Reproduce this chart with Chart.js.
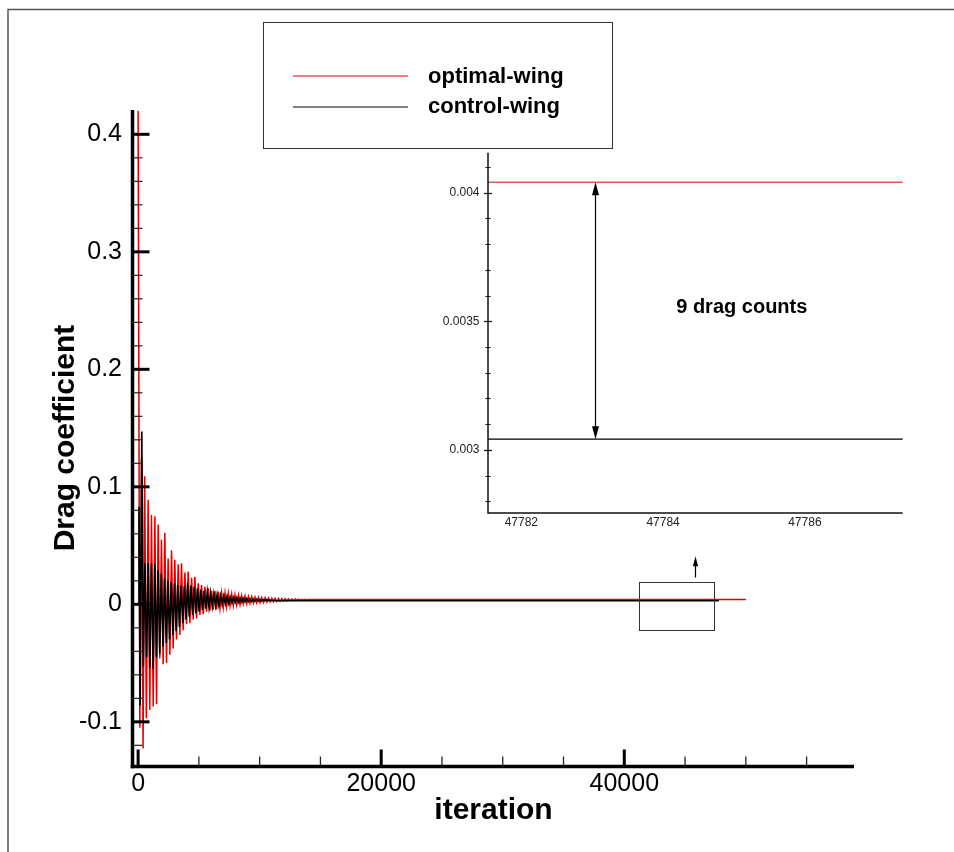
<!DOCTYPE html>
<html><head><meta charset="utf-8">
<script src="https://cdn.jsdelivr.net/npm/chart.js@4.4.0/dist/chart.umd.min.js"></script>
<style>
html,body{margin:0;padding:0;background:#fff;}
#wrap{position:relative;width:954px;height:852px;overflow:hidden;background:#fff;}
#wrap canvas{position:absolute;left:0;top:0;}
</style></head><body>
<div id="wrap"><canvas id="main" width="954" height="852"></canvas><canvas id="inset" width="954" height="852"></canvas></div>
<script>
// ---------------- data ----------------
const seriesNames = ['optimal-wing', 'control-wing'];

// optimal-wing (red): iteration / drag coefficient, alternating peaks and troughs
const redIter = [0, 140, 280, 410, 540, 680, 825, 960, 1100, 1240, 1380, 1515, 1650, 1785, 1920, 2060, 2200, 2335, 2470, 2610, 2750, 2885, 3020, 3160, 3300, 3435, 3570, 3710, 3850, 3985, 4120, 4260, 4400, 4535, 4670, 4810, 4950, 5085, 5220, 5360, 5500, 5635, 5770, 5910, 6050, 6185, 6320, 6460, 6600, 6735, 6870, 7010, 7150, 7285, 7420, 7560, 7700, 7835, 7970, 8110, 8250, 8385, 8520, 8660, 8800, 8935, 9070, 9210, 9350, 9485, 9620, 9760, 9900, 10035, 10170, 10310, 10450, 10585, 10720, 10860, 11000, 11135, 11270, 11410, 11550, 11685, 11820, 11960, 12100, 12235, 12370, 12510, 12650, 12785, 12920, 13060, 13200, 13335, 13470, 13610, 13750, 13885, 14020, 14600, 50000];
const redCd = [0.42, -0.105, 0.125, -0.1226, 0.109, -0.097, 0.089, -0.090, 0.076, -0.087, 0.075, -0.085, 0.068, -0.046, 0.055, -0.051, 0.061, -0.050, 0.039, -0.043, 0.046, -0.0375, 0.038, -0.030, 0.034, -0.026, 0.035, -0.022, 0.027, -0.017, 0.028, -0.016, 0.0225, -0.013, 0.0235, -0.012, 0.018, -0.009, 0.0164, -0.0085, 0.015, -0.0063, 0.0136, -0.0055, 0.0116, -0.0045, 0.0112, -0.0043, 0.0108, -0.0035, 0.010, -0.0026, 0.0098, -0.002, 0.0094, -0.0015, 0.0088, -0.001, 0.0082, -0.0006, 0.0078, -0.0002, 0.0073, 0.0003, 0.007, 0.0005, 0.0067, 0.0008, 0.0064, 0.001, 0.0061, 0.0012, 0.0059, 0.0014, 0.0057, 0.0016, 0.0056, 0.0018, 0.0054, 0.002, 0.0052, 0.0022, 0.0051, 0.0024, 0.005, 0.0026, 0.0049, 0.0028, 0.0048, 0.003, 0.0047, 0.0032, 0.0046, 0.0034, 0.0045, 0.0035, 0.0044, 0.0036, 0.0043, 0.0037, 0.0042, 0.0038, 0.0041, 0.00404, 0.00404];

// control-wing (black)
const blackIter = [0, 70, 170, 305, 430, 560, 700, 830, 960, 1100, 1240, 1370, 1510, 1640, 1780, 1910, 2050, 2180, 2320, 2450, 2590, 2720, 2860, 2990, 3130, 3260, 3400, 3530, 3670, 3800, 3940, 4070, 4210, 4340, 4480, 4610, 4750, 4880, 5020, 5150, 5290, 5420, 5560, 5690, 5830, 5960, 6100, 6230, 6370, 6500, 6640, 6770, 6910, 7040, 7180, 7310, 7450, 7580, 7720, 7850, 7990, 8120, 8260, 8390, 8530, 8660, 8800, 8930, 9070, 9200, 9340, 9470, 9610, 9740, 9880, 10010, 10150, 10280, 10420, 10550, 10690, 10820, 10960, 11100, 11300, 47787];
const blackCd = [0.0, 0.083, -0.086, 0.147, -0.053, 0.035, -0.045, 0.035, -0.054, 0.035, -0.055, 0.034, -0.045, 0.029, -0.042, 0.026, -0.036, 0.022, -0.033, 0.020, -0.030, 0.019, -0.026, 0.018, -0.023, 0.0165, -0.019, 0.016, -0.016, 0.0155, -0.013, 0.018, -0.0105, 0.016, -0.009, 0.015, -0.0075, 0.0136, -0.0063, 0.0125, -0.005, 0.0115, -0.0038, 0.0107, -0.0026, 0.0098, -0.0018, 0.009, -0.0012, 0.0082, -0.0006, 0.0076, -0.0001, 0.0071, 0.0004, 0.0066, 0.0008, 0.0062, 0.0012, 0.0059, 0.0015, 0.0056, 0.0017, 0.0054, 0.0019, 0.0052, 0.0021, 0.005, 0.0023, 0.0048, 0.0025, 0.0046, 0.0026, 0.0045, 0.0027, 0.0043, 0.0028, 0.0042, 0.0029, 0.004, 0.003, 0.0038, 0.0031, 0.0035, 0.00305, 0.00304];

// main axes ticks
const xMajorTicks = [0, 20000, 40000];
const xMajorLabels = ['0', '20000', '40000'];
const xMinorTicks = [5000, 10000, 15000, 25000, 30000, 35000, 45000, 50000, 55000];
const yMajorTicks = [-0.1, 0, 0.1, 0.2, 0.3, 0.4];
const yMajorLabels = ['-0.1', '0', '0.1', '0.2', '0.3', '0.4'];
const yMinorTicks = [-0.12, -0.08, -0.06, -0.04, -0.02, 0.02, 0.04, 0.06, 0.08, 0.12, 0.14, 0.16, 0.18, 0.22, 0.24, 0.26, 0.28, 0.32, 0.34, 0.36, 0.38];
const xRange = [-420, 58900];
const yRange = [-0.1376, 0.4207];

// zoom window marked on the main plot
const zoomBoxIter = [41225, 47393];
const zoomBoxCd = [-0.0219, 0.0192];
const zoomArrowIter = 45806;
const zoomArrowCd = [0.0228, 0.041];

// inset (zoomed) data
const insetIter = [47781, 47782, 47783, 47784, 47785, 47786, 47787, 47788];
const insetRed = [0.00404, 0.00404, 0.00404, 0.00404, 0.00404, 0.00404, 0.00404, 0.00404];
const insetBlack = [0.003042, 0.003042, 0.003042, 0.003042, 0.003042, 0.003042, 0.003042, 0.003042];
const insetXTicks = [47782, 47784, 47786];
const insetXLabels = ['47782', '47784', '47786'];
const insetYTicks = [0.003, 0.0035, 0.004];
const insetYLabels = ['0.003', '0.0035', '0.004'];
const insetYMinor = [0.0028, 0.0029, 0.0031, 0.0032, 0.0033, 0.0034, 0.0036, 0.0037, 0.0038, 0.0039, 0.0041];
const insetXRange = [47781.53, 47787.38];
const insetYRange = [0.002755, 0.004155];
const insetArrowIter = 47783.04;
const insetNote = '9 drag counts';
const insetNoteAt = [47785.11, 0.003552];

// ---------------- helpers ----------------
const FONT = "'Liberation Sans', Arial, Helvetica, sans-serif";
const pts = (xs, ys) => xs.map((x, i) => ({x: x, y: ys[i]}));

function arrowHead(ctx, x, y, dir, len, half) {
  ctx.beginPath();
  ctx.moveTo(x, y);
  ctx.lineTo(x - half, y - dir * len);
  ctx.lineTo(x + half, y - dir * len);
  ctx.closePath();
  ctx.fill();
}

// ---------------- main chart ----------------
const mainDecor = {
  id: 'mainDecor',
  afterDraw(chart) {
    const {ctx, chartArea: a} = chart;
    const xs = chart.scales.x, ys = chart.scales.y;
    ctx.save();
    // outer frame
    ctx.strokeStyle = '#555'; ctx.lineWidth = 1.5;
    ctx.beginPath(); ctx.moveTo(8, 852); ctx.lineTo(8, 9.5); ctx.lineTo(954, 9.5); ctx.stroke();
    // axis lines
    ctx.strokeStyle = '#000'; ctx.lineWidth = 3.5; ctx.lineCap = 'butt';
    const ax = a.left - 0.5, ay = a.bottom + 0.5;
    ctx.beginPath(); ctx.moveTo(ax, a.top); ctx.lineTo(ax, ay + 1.75); ctx.stroke();
    ctx.beginPath(); ctx.moveTo(ax - 1.75, ay); ctx.lineTo(a.right, ay); ctx.stroke();
    // y ticks (inside)
    ctx.lineWidth = 3;
    yMajorTicks.forEach(v => { const p = ys.getPixelForValue(v); ctx.beginPath(); ctx.moveTo(ax, p); ctx.lineTo(ax + 17, p); ctx.stroke(); });
    ctx.lineWidth = 1.2; ctx.strokeStyle = '#222';
    yMinorTicks.forEach(v => { const p = ys.getPixelForValue(v); ctx.beginPath(); ctx.moveTo(ax, p); ctx.lineTo(ax + 10, p); ctx.stroke(); });
    // x ticks (inside)
    ctx.strokeStyle = '#000'; ctx.lineWidth = 3;
    xMajorTicks.forEach(v => { const p = xs.getPixelForValue(v); ctx.beginPath(); ctx.moveTo(p, ay); ctx.lineTo(p, ay - 17); ctx.stroke(); });
    ctx.lineWidth = 1.3; ctx.strokeStyle = '#222';
    xMinorTicks.forEach(v => { const p = xs.getPixelForValue(v); ctx.beginPath(); ctx.moveTo(p, ay); ctx.lineTo(p, ay - 10); ctx.stroke(); });
    // zoom box
    ctx.strokeStyle = '#333'; ctx.lineWidth = 1;
    const bx0 = xs.getPixelForValue(zoomBoxIter[0]), bx1 = xs.getPixelForValue(zoomBoxIter[1]);
    const by0 = ys.getPixelForValue(zoomBoxCd[1]), by1 = ys.getPixelForValue(zoomBoxCd[0]);
    ctx.strokeRect(Math.round(bx0) + 0.5, Math.round(by0) + 0.5, Math.round(bx1 - bx0), Math.round(by1 - by0));
    // arrow up
    const arx = Math.round(xs.getPixelForValue(zoomArrowIter)) + 0.5;
    const ar0 = ys.getPixelForValue(zoomArrowCd[0]), ar1 = ys.getPixelForValue(zoomArrowCd[1]);
    ctx.strokeStyle = '#000'; ctx.fillStyle = '#000'; ctx.lineWidth = 1.2;
    ctx.beginPath(); ctx.moveTo(arx, ar0); ctx.lineTo(arx, ar1 + 8); ctx.stroke();
    arrowHead(ctx, arx, ar1, -1, 10, 2.6);
    // legend
    ctx.strokeStyle = '#333'; ctx.lineWidth = 1;
    ctx.strokeRect(263.5, 22.5, 349, 126);
    ctx.lineWidth = 1.5;
    ctx.strokeStyle = '#e45a5a';
    ctx.beginPath(); ctx.moveTo(293, 76); ctx.lineTo(408, 76); ctx.stroke();
    ctx.strokeStyle = '#000'; ctx.lineWidth = 1.2;
    ctx.beginPath(); ctx.moveTo(293, 107); ctx.lineTo(408, 107); ctx.stroke();
    ctx.fillStyle = '#000';
    ctx.font = 'bold 22px ' + FONT; ctx.textAlign = 'left'; ctx.textBaseline = 'middle';
    ctx.fillText(seriesNames[0], 428, 76.5);
    ctx.fillText(seriesNames[1], 428, 107);
    ctx.restore();
  }
};

new Chart(document.getElementById('main'), {
  type: 'line',
  data: {
    datasets: [
      {label: seriesNames[0], data: pts(redIter, redCd), borderColor: '#e00000', borderWidth: 1.5, pointRadius: 0, tension: 0, fill: false, order: 1},
      {label: seriesNames[1], data: pts(blackIter, blackCd), borderColor: '#000000', borderWidth: 1.6, pointRadius: 0, tension: 0, fill: false, order: 0}
    ]
  },
  options: {
    responsive: false, animation: false, events: [],
    layout: {padding: {left: 0, top: 110, right: 100, bottom: 0}},
    plugins: {legend: {display: false}, tooltip: {enabled: false}},
    scales: {
      x: {
        type: 'linear', min: xRange[0], max: xRange[1],
        afterFit(s) { s.height = 86; },
        afterBuildTicks(s) { s.ticks = xMajorTicks.map(v => ({value: v})); },
        grid: {display: false, drawTicks: false}, border: {display: false},
        ticks: {autoSkip: false, maxRotation: 0, padding: 3.5, color: '#000', font: {family: FONT, size: 25},
          callback: (v, i) => xMajorLabels[i]},
        title: {display: true, text: 'iteration', color: '#000', font: {family: FONT, size: 30, weight: 'bold'}, padding: {top: 0, bottom: 23}}
      },
      y: {
        type: 'linear', min: yRange[0], max: yRange[1],
        afterFit(s) { s.width = 133; },
        afterBuildTicks(s) { s.ticks = yMajorTicks.map(v => ({value: v})); },
        grid: {display: false, drawTicks: false}, border: {display: false},
        ticks: {autoSkip: false, padding: 11, color: '#000', font: {family: FONT, size: 25},
          callback: (v, i) => yMajorLabels[i]},
        title: {display: true, text: 'Drag coefficient', color: '#000', font: {family: FONT, size: 30, weight: 'bold'}, padding: {top: 48, bottom: 0}}
      }
    }
  },
  plugins: [mainDecor]
});

// ---------------- inset chart ----------------
const insetDecor = {
  id: 'insetDecor',
  afterDraw(chart) {
    const {ctx, chartArea: a} = chart;
    const xs = chart.scales.x, ys = chart.scales.y;
    ctx.save();
    ctx.strokeStyle = '#111'; ctx.lineWidth = 1.5;
    const ax = a.left, ay = a.bottom;
    ctx.beginPath(); ctx.moveTo(ax, a.top); ctx.lineTo(ax, ay); ctx.lineTo(a.right, ay); ctx.stroke();
    ctx.lineWidth = 1.2;
    insetYTicks.forEach(v => { const p = Math.round(ys.getPixelForValue(v)) + 0.5; ctx.beginPath(); ctx.moveTo(ax - 4, p); ctx.lineTo(ax + 4, p); ctx.stroke(); });
    ctx.lineWidth = 1;
    insetYMinor.forEach(v => { const p = Math.round(ys.getPixelForValue(v)) + 0.5; ctx.beginPath(); ctx.moveTo(ax - 2.5, p); ctx.lineTo(ax + 2.5, p); ctx.stroke(); });
    // double arrow
    const px = Math.round(xs.getPixelForValue(insetArrowIter)) + 0.5;
    const pTop = ys.getPixelForValue(insetRed[0]), pBot = ys.getPixelForValue(insetBlack[0]);
    ctx.strokeStyle = '#000'; ctx.fillStyle = '#000'; ctx.lineWidth = 1.2;
    ctx.beginPath(); ctx.moveTo(px, pTop + 10); ctx.lineTo(px, pBot - 10); ctx.stroke();
    arrowHead(ctx, px, pTop, -1, 13, 3.5);
    arrowHead(ctx, px, pBot, 1, 13, 3.5);
    // note
    ctx.font = 'bold 20px ' + FONT; ctx.textAlign = 'center'; ctx.textBaseline = 'middle';
    ctx.fillText(insetNote, xs.getPixelForValue(insetNoteAt[0]), ys.getPixelForValue(insetNoteAt[1]));
    ctx.restore();
  }
};

new Chart(document.getElementById('inset'), {
  type: 'line',
  data: {
    datasets: [
      {label: seriesNames[0], data: pts(insetIter, insetRed), borderColor: '#e45a5a', borderWidth: 1.6, pointRadius: 0, tension: 0, fill: false},
      {label: seriesNames[1], data: pts(insetIter, insetBlack), borderColor: '#000000', borderWidth: 1.2, pointRadius: 0, tension: 0, fill: false}
    ]
  },
  options: {
    responsive: false, animation: false, events: [],
    layout: {padding: {left: 0, top: 152.7, right: 51.3, bottom: 0}},
    plugins: {legend: {display: false}, tooltip: {enabled: false}},
    scales: {
      x: {
        type: 'linear', min: insetXRange[0], max: insetXRange[1],
        afterFit(s) { s.height = 339; },
        afterBuildTicks(s) { s.ticks = insetXTicks.map(v => ({value: v})); },
        grid: {display: false, drawTicks: false}, border: {display: false},
        ticks: {autoSkip: false, maxRotation: 0, padding: 2, color: '#222', font: {family: FONT, size: 12},
          callback: (v, i) => insetXLabels[i]}
      },
      y: {
        type: 'linear', min: insetYRange[0], max: insetYRange[1],
        afterFit(s) { s.width = 488; },
        afterBuildTicks(s) { s.ticks = insetYTicks.map(v => ({value: v})); },
        grid: {display: false, drawTicks: false}, border: {display: false},
        ticks: {autoSkip: false, padding: 8.5, color: '#222', font: {family: FONT, size: 12},
          callback: (v, i) => insetYLabels[i]}
      }
    }
  },
  plugins: [insetDecor]
});
</script>
</body></html>
